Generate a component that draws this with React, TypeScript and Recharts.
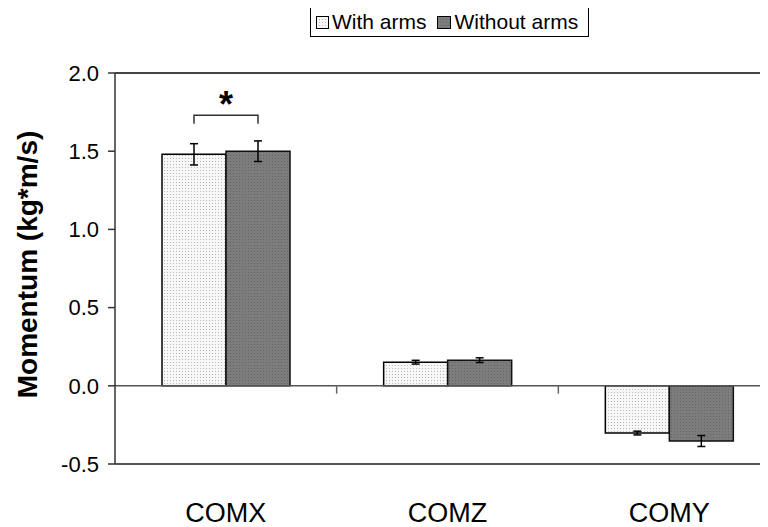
import React from 'react';
import {
  BarChart, Bar, XAxis, YAxis, ErrorBar, ReferenceLine, Legend, LabelList,
} from 'recharts';

const categories = ['COMX', 'COMZ', 'COMY'];
const withArms = [1.48, 0.151, -0.302];
const withoutArms = [1.5, 0.164, -0.353];
const withArmsErr = [0.068, 0.012, 0.012];
const withoutArmsErr = [0.066, 0.015, 0.035];
const yTicks = [-0.5, 0, 0.5, 1.0, 1.5, 2.0];
const seriesNames = ['With arms', 'Without arms'];
const sigBracketLevel = 1.73;
const sigLegLevel = 1.675;
const sigStarLevel = 1.735;
const separatorCats = ['COMX', 'COMZ'];

const data = categories.map((c, i) => ({
  name: c,
  withArms: withArms[i],
  withoutArms: withoutArms[i],
  withErr: withArmsErr[i],
  withoutErr: withoutArmsErr[i],
}));

const FONT = '"Liberation Sans", Arial, Helvetica, sans-serif';

const SigBracket = (props: any) => {
  const { x, y, width, height, value, index } = props;
  if (index !== 0) return null;
  const pxPerUnit = Math.abs(height) / Math.abs(value);
  const zeroY = y + height;
  const yFor = (v: number) => zeroY - v * pxPerUnit;
  const c1 = x + width / 2;
  const c2 = x + width * 1.5;
  const top = yFor(sigBracketLevel);
  const leg = yFor(sigLegLevel);
  return (
    <g>
      <path d={`M${c1},${leg} L${c1},${top} L${c2},${top} L${c2},${leg}`} fill="none" stroke="#333" strokeWidth={1.5} />
      <text x={(c1 + c2) / 2} y={yFor(sigStarLevel) + 3} textAnchor="middle" fontFamily={FONT} fontWeight="bold" fontSize={36} fill="#000">*</text>
    </g>
  );
};

const XTick = (props: any) => {
  const { x, y, payload } = props;
  return (
    <text x={x} y={y + 58} textAnchor="middle" fontFamily={FONT} fontSize={27} fill="#000">{payload.value}</text>
  );
};

const YLabel = (props: any) => {
  const vb = props.viewBox || { x: 0, y: 64, width: 107, height: 392 };
  const cx = vb.x + 19;
  const cy = vb.y + vb.height / 2 - 4;
  return (
    <text x={cx} y={cy} transform={`rotate(-90, ${cx}, ${cy})`} textAnchor="middle" dominantBaseline="central" fontFamily={FONT} fontWeight="bold" fontSize={28} fill="#000">Momentum (kg*m/s)</text>
  );
};

const LegendContent = () => (
  <div style={{ display: 'flex', alignItems: 'center', border: '1px solid #000', height: 30, padding: '0 10px 0 5px', fontFamily: FONT, fontSize: 21, color: '#000', background: '#fff', boxSizing: 'border-box', whiteSpace: 'nowrap' }}>
    <svg width={13} height={13} style={{ marginRight: 3 }}>
      <rect x={0.5} y={0.5} width={12} height={12} fill="url(#lightDots)" stroke="#000" />
    </svg>
    <span style={{ marginRight: 10 }}>{seriesNames[0]}</span>
    <svg width={14} height={13} style={{ marginRight: 4 }}>
      <rect x={0.5} y={0.5} width={13} height={12} fill="url(#darkDots)" stroke="#000" />
    </svg>
    <span>{seriesNames[1]}</span>
  </div>
);

export default function App() {
  return (
    <div style={{ width: 760, overflow: 'hidden' }}>
      <BarChart
        width={772}
        height={519}
        data={data}
        margin={{ top: 35, right: 0, bottom: 13, left: 0 }}
        barSize={64}
        barGap={0}
      >
        <defs>
          <pattern id="lightDots" width="3" height="3" patternUnits="userSpaceOnUse">
            <rect width="3" height="3" fill="#f7f7f7" />
            <rect width="1" height="1" fill="#b8b8b8" />
          </pattern>
          <pattern id="darkDots" width="3" height="3" patternUnits="userSpaceOnUse">
            <rect width="3" height="3" fill="#7c7c7c" />
            <rect width="1" height="1" fill="#666" />
          </pattern>
        </defs>
        <XAxis dataKey="name" axisLine={false} tickLine={false} tickSize={0} tickMargin={0} height={50} tick={<XTick />} interval={0} />
        <YAxis
          width={107}
          domain={[-0.5, 2]}
          ticks={yTicks}
          tickFormatter={(v: number) => v.toFixed(1)}
          tick={{ fontFamily: FONT, fontSize: 22, fill: '#000' }}
          tickSize={7}
          tickMargin={9}
          axisLine={{ stroke: '#333', strokeWidth: 1.5 }}
          tickLine={{ stroke: '#333', strokeWidth: 1.5 }}
          allowDataOverflow
          interval={0}
          label={<YLabel />}
        />
        <Legend verticalAlign="top" content={<LegendContent />} wrapperStyle={{ position: 'absolute', top: -1, left: 302, width: 'auto' }} />
        <ReferenceLine y={2} stroke="#444" strokeWidth={2} />
        <ReferenceLine y={-0.5} stroke="#555" strokeWidth={2} />
        <Bar dataKey="withArms" name={seriesNames[0]} fill="url(#lightDots)" stroke="#000" strokeWidth={1.5} isAnimationActive={false}>
          <ErrorBar dataKey="withErr" width={4} stroke="#000" strokeWidth={1.5} direction="y" />
          <LabelList dataKey="withArms" content={<SigBracket />} />
        </Bar>
        <Bar dataKey="withoutArms" name={seriesNames[1]} fill="url(#darkDots)" stroke="#111" strokeWidth={1.5} isAnimationActive={false}>
          <ErrorBar dataKey="withoutErr" width={4} stroke="#000" strokeWidth={1.5} direction="y" />
        </Bar>
        <ReferenceLine y={0} stroke="#555" strokeWidth={1.5} />
        {separatorCats.map((c) => (
          <ReferenceLine key={c} position="end" segment={[{ x: c, y: 0 }, { x: c, y: -0.05 }]} stroke="#666" strokeWidth={1.5} />
        ))}
      </BarChart>
    </div>
  );
}
